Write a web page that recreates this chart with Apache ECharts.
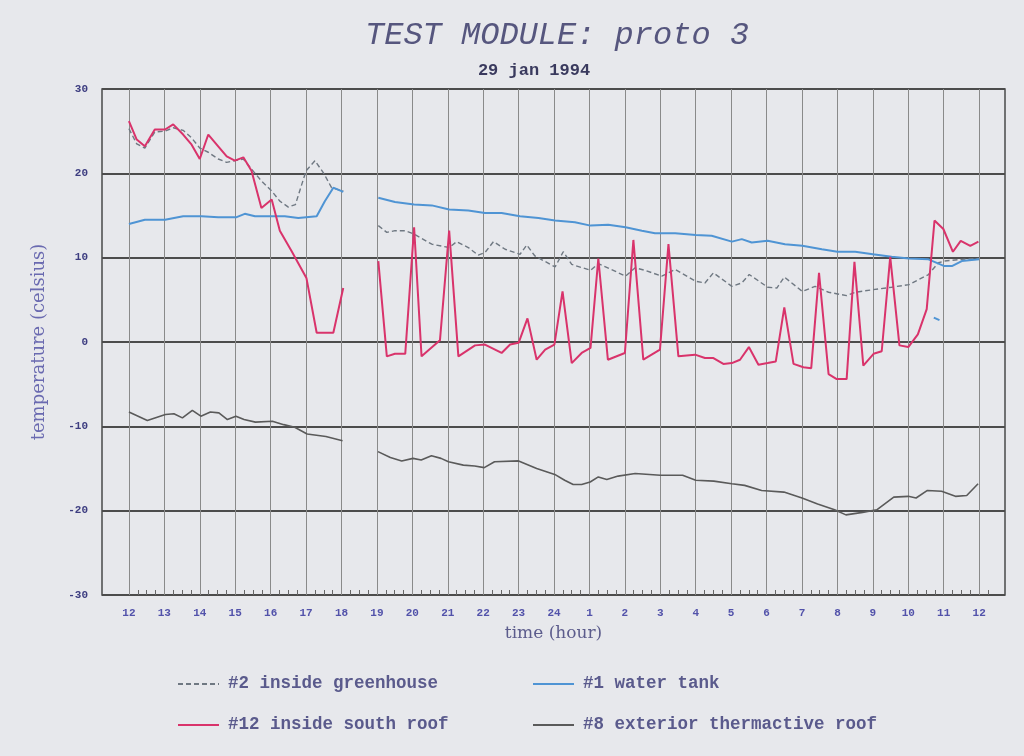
<!DOCTYPE html>
<html>
<head>
<meta charset="utf-8">
<script src="https://cdn.jsdelivr.net/npm/echarts@6/dist/echarts.min.js"></script>
<style>
  html, body { margin: 0; padding: 0; background: #e7e8ec; }
  #chart { width: 1024px; height: 756px; }
</style>
</head>
<body>
<div id="chart"></div>
<script>
// ---- x axis tick values (hours since midnight of 29 jan; 24+ = next day) ----
const hourTicks = [12,13,14,15,16,17,18,19,20,21,22,23,24,25,26,27,28,29,30,31,32,33,34,35,36];
const hourLabels = ['12','13','14','15','16','17','18','19','20','21','22','23','24','1','2','3','4','5','6','7','8','9','10','11','12'];
const yTicks = [-30,-20,-10,0,10,20,30];

// ---- #2 inside greenhouse ----
const greenhouseHours = [12,12.22,12.45,12.73,13.02,13.25,13.53,13.77,14.0,14.24,14.52,14.76,14.99,15.23,15.46,15.74,16.03,16.26,16.5,16.7,17.0,17.25,17.5,17.72,18.05,null,
  19.04,19.28,19.51,19.8,20.05,20.55,21.04,21.25,21.58,21.86,22.05,22.29,22.62,23.04,23.23,23.46,24.03,24.26,24.5,25.03,25.25,25.72,26.02,26.29,26.57,27.04,27.42,28.0,28.26,28.5,
  29.02,29.3,29.51,30.03,30.29,30.5,31.01,31.37,31.75,32.26,32.5,33.0,33.53,34.02,34.57,34.85,35.02,35.51,36.0];
const greenhouseTemps = [25.3,23.5,23.0,24.9,25.0,25.4,25.1,24.2,23.0,22.5,21.7,21.3,21.5,21.7,20.5,19.1,17.9,16.7,16.0,16.3,20.3,21.5,20.0,18.3,17.9,null,
  13.8,13.0,13.2,13.2,12.8,11.6,11.2,11.9,11.2,10.3,10.6,11.9,11.0,10.4,11.5,10.2,8.9,10.7,9.2,8.5,9.3,8.4,7.8,8.8,8.5,7.8,8.6,7.2,7.0,8.2,
  6.6,7.0,8.0,6.5,6.4,7.7,6.0,6.6,5.9,5.5,5.9,6.2,6.5,6.8,8.0,9.4,9.6,9.8,9.9];

// ---- #1 water tank ----
const tankHours = [12,12.45,13.02,13.53,14.05,14.52,15.04,15.27,15.56,16.03,16.4,16.78,17.3,17.53,17.77,18.05,null,
  19.04,19.51,20.05,20.55,21.04,21.58,22.05,22.52,23.04,23.56,24.03,24.59,25.03,25.53,26.02,26.48,26.85,27.42,28.0,28.45,29.02,29.3,29.58,
  30.03,30.52,31.01,31.56,32.0,32.5,33.0,33.53,34.02,34.57,35.02,35.23,35.51,36.0,null,34.72,34.88];
const tankTemps = [14.0,14.5,14.5,14.9,14.9,14.8,14.8,15.2,14.9,14.9,14.9,14.7,14.9,16.7,18.3,17.8,null,
  17.1,16.6,16.3,16.2,15.7,15.6,15.3,15.3,14.9,14.7,14.4,14.2,13.8,13.9,13.6,13.2,12.9,12.9,12.7,12.6,11.9,12.2,11.8,
  12.0,11.6,11.4,11.0,10.7,10.7,10.4,10.1,9.9,9.8,9.0,9.0,9.6,9.8,null,2.9,2.6];

// ---- #12 inside south roof ----
const roofHours = [12,12.22,12.45,12.73,13.02,13.25,13.53,13.77,14.0,14.24,14.52,14.76,14.99,15.23,15.46,15.74,16.03,16.26,16.59,17.01,17.3,17.77,18.05,null,
  19.04,19.28,19.51,19.8,20.05,20.26,20.78,21.04,21.3,21.77,22.05,22.52,22.76,23.0,23.25,23.51,23.75,24.01,24.24,24.5,24.78,25.03,25.25,25.52,26.0,26.24,26.52,26.99,
  27.23,27.51,27.98,28.26,28.5,28.78,29.02,29.25,29.5,29.77,30.03,30.26,30.5,30.76,31.04,31.26,31.48,31.75,31.98,32.26,32.48,32.73,33.02,33.25,33.49,33.75,34.0,
  34.27,34.52,34.74,34.99,35.26,35.48,35.75,35.98];
const roofTemps = [26.2,24.0,23.2,25.2,25.2,25.8,24.6,23.4,21.7,24.6,23.2,22.0,21.5,21.9,20.3,15.9,16.9,13.2,10.8,7.6,1.1,1.1,6.4,null,
  9.6,-1.7,-1.4,-1.4,13.6,-1.7,0.2,13.2,-1.7,-0.4,-0.3,-1.3,-0.3,-0.1,2.8,-2.1,-0.9,-0.3,6.0,-2.5,-1.3,-0.7,9.9,-2.1,-1.3,12.1,-2.1,-0.9,
  11.6,-1.7,-1.5,-1.9,-1.9,-2.6,-2.5,-2.1,-0.6,-2.7,-2.5,-2.3,4.1,-2.6,-3.0,-3.1,8.2,-3.8,-4.4,-4.4,9.5,-2.8,-1.4,-1.1,10.1,-0.4,-0.6,
  0.9,3.9,14.4,13.4,10.7,12.0,11.4,11.9];

// ---- #8 exterior thermactive roof ----
const extHours = [12,12.52,13.03,13.27,13.51,13.79,14.03,14.3,14.54,14.78,15.02,15.25,15.57,16.05,16.37,16.68,17.03,17.56,18.03,null,
  19.03,19.38,19.7,20.02,20.25,20.54,20.81,21.02,21.44,21.76,22.03,22.32,23.0,23.51,24.02,24.3,24.54,24.78,25.02,25.25,25.49,25.81,26.29,27.0,27.63,
  28.0,28.51,29.02,29.38,29.86,30.49,31.0,31.44,31.92,32.24,32.71,33.11,33.59,34.0,34.22,34.54,34.94,35.33,35.65,35.97];
const extTemps = [-8.3,-9.3,-8.6,-8.5,-9.0,-8.1,-8.8,-8.3,-8.4,-9.2,-8.8,-9.2,-9.5,-9.4,-9.8,-10.1,-10.9,-11.2,-11.7,null,
  -13.0,-13.7,-14.1,-13.8,-14.0,-13.5,-13.8,-14.2,-14.6,-14.7,-14.9,-14.2,-14.1,-15.0,-15.7,-16.4,-16.9,-16.9,-16.6,-16.0,-16.3,-15.9,-15.6,-15.8,-15.8,
  -16.4,-16.5,-16.8,-17.0,-17.6,-17.8,-18.5,-19.2,-19.9,-20.5,-20.2,-19.9,-18.4,-18.3,-18.5,-17.6,-17.7,-18.3,-18.2,-16.8];

function pairs(hs, ts) {
  return hs.map((h, i) => (h === null || ts[i] === null) ? ['-', '-'] : [h, ts[i]]);
}

const minorTicks = [];
for (let h = 12; h < 36.5; h += 0.25) {
  if (Math.abs(h - Math.round(h)) > 0.01) minorTicks.push(h);
}

const MONO = '"Liberation Mono", "DejaVu Sans Mono", monospace';
const SERIF = '"DejaVu Serif", serif';
const X_MIN = 11.24, X_MAX = 36.73;

const legendText = { fontFamily: MONO, fontSize: 17.5, fontWeight: 'bold', color: '#5a5a8c', padding: [0, 0, 0, 4] };

const chart = echarts.init(document.getElementById('chart'));
chart.setOption({
  backgroundColor: '#e7e8ec',
  animation: false,
  title: [
    { text: 'TEST MODULE: proto 3', left: 552, top: 15, textAlign: 'center',
      textStyle: { fontFamily: MONO, fontStyle: 'italic', fontWeight: 'normal', fontSize: 32, color: '#56567e' } },
    { text: '29 jan 1994', left: 529, top: 57, textAlign: 'center',
      textStyle: { fontFamily: MONO, fontWeight: 'bold', fontSize: 17, color: '#3a3a5e' } }
  ],
  grid: { left: 102, top: 89, width: 903, height: 506, show: true,
          borderColor: '#4a4a4a', borderWidth: 1.5, backgroundColor: 'transparent' },
  legend: [
    { data: ['#2 inside greenhouse', '#12 inside south roof'], orient: 'vertical', padding: 0,
      left: 177, top: 675, itemWidth: 41, itemHeight: 14, itemGap: 23,
      itemStyle: { opacity: 0 }, textStyle: legendText },
    { data: ['#1 water tank', '#8 exterior thermactive roof'], orient: 'vertical', padding: 0,
      left: 532, top: 675, itemWidth: 41, itemHeight: 14, itemGap: 23,
      itemStyle: { opacity: 0 }, textStyle: legendText }
  ],
  xAxis: [
    { type: 'value', min: X_MIN, max: X_MAX,
      name: 'time (hour)', nameLocation: 'middle', nameGap: 30,
      nameTextStyle: { fontFamily: SERIF, fontSize: 17, color: '#5c5c8c' },
      axisLine: { show: false },
      axisTick: { show: false, customValues: hourTicks },
      axisLabel: { customValues: hourTicks, margin: 13, fontFamily: MONO, fontWeight: 'bold', fontSize: 11, color: '#5252aa',
                   formatter: v => hourLabels[hourTicks.indexOf(Math.round(v))] },
      splitLine: { show: true, lineStyle: { color: '#8a8a8a', width: 1 } } },
    { type: 'value', min: X_MIN, max: X_MAX, position: 'bottom',
      axisLine: { show: false },
      axisTick: { show: true, inside: true, length: 5, customValues: minorTicks, lineStyle: { color: '#666', width: 1 } },
      axisLabel: { show: false },
      splitLine: { show: false } }
  ],
  yAxis: {
    type: 'value', min: -30, max: 30, interval: 10,
    name: 'temperature (celsius)', nameLocation: 'middle', nameGap: 54,
    nameTextStyle: { fontFamily: SERIF, fontSize: 18, color: '#6a6ab0' },
    axisLine: { show: false }, axisTick: { show: false },
    axisLabel: { margin: 14, fontFamily: MONO, fontWeight: 'bold', fontSize: 11, color: '#3d3d80' },
    splitLine: { show: true, lineStyle: { color: '#4c4c4c', width: 1.8 } }
  },
  series: [
    { name: '#2 inside greenhouse', type: 'line', xAxisIndex: 0, symbol: 'none', data: pairs(greenhouseHours, greenhouseTemps),
      lineStyle: { color: '#6f7882', width: 1.4, type: [5, 3] }, itemStyle: { color: '#6f7882' }, z: 3 },
    { name: '#1 water tank', type: 'line', xAxisIndex: 0, symbol: 'none', data: pairs(tankHours, tankTemps),
      lineStyle: { color: '#4f94d4', width: 2 }, itemStyle: { color: '#7fb8e0' }, z: 4 },
    { name: '#12 inside south roof', type: 'line', xAxisIndex: 0, symbol: 'none', data: pairs(roofHours, roofTemps),
      lineStyle: { color: '#d9336b', width: 2 }, itemStyle: { color: '#d9336b' }, z: 5 },
    { name: '#8 exterior thermactive roof', type: 'line', xAxisIndex: 0, symbol: 'none', data: pairs(extHours, extTemps),
      lineStyle: { color: '#5a5a5a', width: 1.6 }, itemStyle: { color: '#5a5a5a' }, z: 3 }
  ]
});
</script>
</body>
</html>
